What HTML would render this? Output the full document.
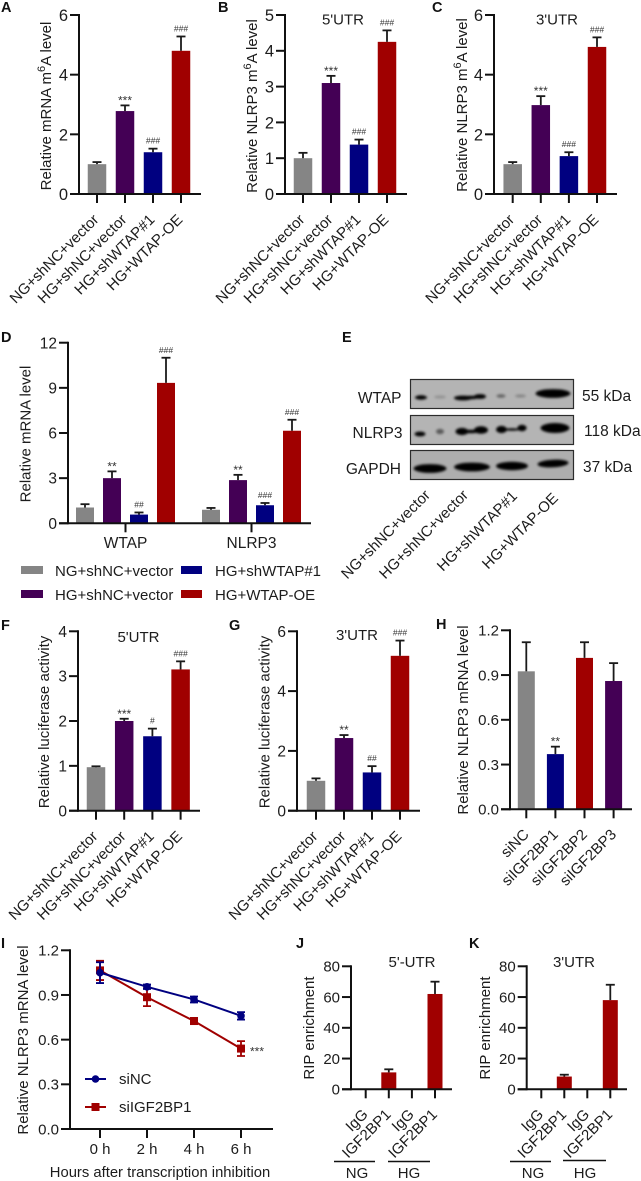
<!DOCTYPE html>
<html lang="en">
<head>
<meta charset="utf-8">
<title>WTAP and NLRP3 figure</title>
<style>
html,body{margin:0;padding:0;background:#fff;}
svg{display:block;}
text{font-family:"Liberation Sans",sans-serif;fill:#1c1c1c;font-size:15px;}
.pl{font-weight:bold;font-size:14.5px;fill:#111;}
.legend-text{font-size:15px;}
.blot-text{font-size:15.5px;}
</style>
</head>
<body>
<svg id="fig" xmlns="http://www.w3.org/2000/svg" width="641" height="1181" viewBox="0 0 641 1181">
  <defs>
    <filter id="soft" x="-30%" y="-60%" width="160%" height="220%"><feGaussianBlur stdDeviation="1.3"/></filter>
  </defs>
  <rect width="641" height="1181" fill="#fff"/>

  <text class="pl" x="1" y="12">A</text>
  <text class="pl" x="218" y="12">B</text>
  <text class="pl" x="432" y="12">C</text>
  <text class="pl" x="1" y="342">D</text>
  <text class="pl" x="342" y="342">E</text>
  <text class="pl" x="1" y="630">F</text>
  <text class="pl" x="229" y="630">G</text>
  <text class="pl" x="436" y="629">H</text>
  <text class="pl" x="1" y="948">I</text>
  <text class="pl" x="296" y="948">J</text>
  <text class="pl" x="469" y="948">K</text>

  <text x="51" y="0" transform="translate(0,106) rotate(-90 51 0)" text-anchor="middle">Relative mRNA m<tspan dy="-6" font-size="11" style="font-size:11px">6</tspan><tspan dy="6">A level</tspan></text>
  <text x="257" y="0" transform="translate(0,106) rotate(-90 257 0)" text-anchor="middle">Relative NLRP3 m<tspan dy="-6" font-size="11" style="font-size:11px">6</tspan><tspan dy="6">A level</tspan></text>
  <text x="467" y="0" transform="translate(0,105) rotate(-90 467 0)" text-anchor="middle">Relative NLRP3 m<tspan dy="-6" font-size="11" style="font-size:11px">6</tspan><tspan dy="6">A level</tspan></text>
  <text x="30.5" y="0" transform="translate(0,434) rotate(-90 30.5 0)" text-anchor="middle">Relative mRNA level</text>
  <text x="49" y="0" transform="translate(0,722) rotate(-90 49 0)" text-anchor="middle">Relative luciferase activity</text>
  <text x="269.5" y="0" transform="translate(0,722) rotate(-90 269.5 0)" text-anchor="middle">Relative luciferase activity</text>
  <text x="468" y="0" transform="translate(0,720) rotate(-90 468 0)" text-anchor="middle">Relative NLRP3 mRNA level</text>
  <text x="28" y="0" transform="translate(0,1040) rotate(-90 28 0)" text-anchor="middle">Relative NLRP3 mRNA level</text>
  <text x="314" y="0" transform="translate(0,1028) rotate(-90 314 0)" text-anchor="middle">RIP enrichment</text>
  <text x="490" y="0" transform="translate(0,1028) rotate(-90 490 0)" text-anchor="middle">RIP enrichment</text>

  <text x="343" y="24.5" text-anchor="middle">5'UTR</text>
  <text x="557" y="24.5" text-anchor="middle">3'UTR</text>
  <text x="138.5" y="642" text-anchor="middle">5'UTR</text>
  <text x="357" y="640" text-anchor="middle">3'UTR</text>
  <text x="412" y="967" text-anchor="middle">5'-UTR</text>
  <text x="574" y="967" text-anchor="middle">3'UTR</text>

  <g>
    <rect x="21" y="566" width="22" height="8" fill="#858585"/>
    <text x="55" y="576">NG+shNC+vector</text>
    <rect x="21" y="590" width="22" height="8" fill="#440055"/>
    <text x="55" y="600">HG+shNC+vector</text>
    <rect x="181" y="566" width="21" height="8" fill="#000080"/>
    <text x="215" y="576">HG+shWTAP#1</text>
    <rect x="181" y="590" width="21" height="8" fill="#a00000"/>
    <text x="215" y="600">HG+WTAP-OE</text>
  </g>

  <g>
    <g>
      <rect x="410.5" y="379.5" width="163" height="29" fill="#b4b4b4" stroke="#2c2c2c" stroke-width="1.2"/>
      <g filter="url(#soft)" fill="#050505">
        <ellipse cx="421" cy="397.5" rx="6" ry="2.2"/>
        <ellipse cx="440" cy="397" rx="6" ry="1.6" opacity=".18"/>
        <ellipse cx="463" cy="398" rx="9" ry="2.4"/>
        <ellipse cx="471" cy="397.5" rx="8" ry="1.8"/>
        <ellipse cx="480" cy="396.5" rx="6" ry="2.4"/>
        <ellipse cx="501" cy="396" rx="4.5" ry="1.8" opacity=".45"/>
        <ellipse cx="520.5" cy="396" rx="5.5" ry="1.6" opacity=".25"/>
        <ellipse cx="553" cy="393.5" rx="17.5" ry="4.4"/>
      </g>
    </g>
    <g>
      <rect x="410.5" y="415.5" width="163" height="29" fill="#b4b4b4" stroke="#2c2c2c" stroke-width="1.2"/>
      <g filter="url(#soft)" fill="#050505">
        <ellipse cx="420" cy="434" rx="5.5" ry="2.4"/>
        <ellipse cx="440" cy="431.5" rx="4" ry="2.6" opacity=".5"/>
        <ellipse cx="462" cy="431.5" rx="6.5" ry="3.6"/>
        <ellipse cx="471" cy="431.5" rx="8" ry="1.8"/>
        <ellipse cx="481" cy="430" rx="7" ry="3.8"/>
        <ellipse cx="501.5" cy="429.5" rx="5.5" ry="3.6"/>
        <ellipse cx="512" cy="429.5" rx="8" ry="1.2"/>
        <ellipse cx="522" cy="428" rx="4.6" ry="3.2"/>
        <ellipse cx="555" cy="428" rx="14.5" ry="5"/>
      </g>
    </g>
    <g>
      <rect x="410.5" y="450.5" width="163" height="29" fill="#aeaeae" stroke="#2c2c2c" stroke-width="1.2"/>
      <g filter="url(#soft)" fill="#030303">
        <ellipse cx="430" cy="468.5" rx="16.5" ry="4.4"/>
        <ellipse cx="472" cy="467" rx="18" ry="4.4"/>
        <ellipse cx="512" cy="466" rx="16" ry="4.2"/>
        <ellipse cx="553" cy="463.5" rx="15.5" ry="3.8" transform="rotate(-3 553 463.5)"/>
      </g>
    </g>
    <text class="blot-text" x="401.5" y="403" text-anchor="end">WTAP</text>
    <text class="blot-text" x="402.5" y="438" text-anchor="end">NLRP3</text>
    <text class="blot-text" x="401" y="474" text-anchor="end">GAPDH</text>
    <text class="blot-text" x="582" y="401">55 kDa</text>
    <text class="blot-text" x="584" y="436">118 kDa</text>
    <text class="blot-text" x="583" y="472">37 kDa</text>
    <text transform="translate(431 496) rotate(-45)" text-anchor="end">NG+shNC+vector</text>
    <text transform="translate(469 496) rotate(-45)" text-anchor="end">HG+shNC+vector</text>
    <text transform="translate(518 497) rotate(-45)" text-anchor="end">HG+shWTAP#1</text>
    <text transform="translate(559 499) rotate(-45)" text-anchor="end">HG+WTAP-OE</text>
  </g>

  <g>
    <line x1="334" x2="375" y1="1161.5" y2="1161.5" stroke="#111" stroke-width="1.6"/>
    <line x1="388" x2="430" y1="1161.5" y2="1161.5" stroke="#111" stroke-width="1.6"/>
    <line x1="510" x2="551" y1="1161.5" y2="1161.5" stroke="#111" stroke-width="1.6"/>
    <line x1="563" x2="606" y1="1160.5" y2="1160.5" stroke="#111" stroke-width="1.6"/>
    <text x="357" y="1178" text-anchor="middle">NG</text>
    <text x="409" y="1178" text-anchor="middle">HG</text>
    <text x="533" y="1178" text-anchor="middle">NG</text>
    <text x="585" y="1178" text-anchor="middle">HG</text>
  </g>
</svg>

<script>
// ---- Chart data ----
const wtapCategories = ['NG+shNC+vector', 'HG+shNC+vector', 'HG+shWTAP#1', 'HG+WTAP-OE'];

const aValues = [1.0, 2.78, 1.4, 4.8];
const aErrors = [0.07, 0.19, 0.12, 0.48];
const aMarks = ['', '***', '###', '###'];
const aTicks = [0, 2, 4, 6];

const bValues = [1.0, 3.1, 1.38, 4.25];
const bErrors = [0.15, 0.2, 0.14, 0.32];
const bMarks = ['', '***', '###', '###'];
const bTicks = [0, 1, 2, 3, 4, 5];

const cValues = [1.0, 2.98, 1.27, 4.93];
const cErrors = [0.07, 0.3, 0.13, 0.32];
const cMarks = ['', '***', '###', '###'];
const cTicks = [0, 2, 4, 6];

const dGroups = ['WTAP', 'NLRP3'];
const dWtapValues = [1.05, 3.0, 0.58, 9.33];
const dWtapErrors = [0.22, 0.45, 0.14, 1.67];
const dWtapMarks = ['', '**', '##', '###'];
const dNlrp3Values = [0.9, 2.87, 1.2, 6.15];
const dNlrp3Errors = [0.12, 0.35, 0.15, 0.73];
const dNlrp3Marks = ['', '**', '###', '###'];
const dTicks = [0, 3, 6, 9, 12];

const fValues = [0.97, 2.0, 1.66, 3.15];
const fErrors = [0.02, 0.05, 0.17, 0.18];
const fMarks = ['', '***', '#', '###'];
const fTicks = [0, 1, 2, 3, 4];

const gValues = [1.0, 2.43, 1.28, 5.18];
const gErrors = [0.08, 0.1, 0.21, 0.51];
const gMarks = ['', '**', '##', '###'];
const gTicks = [0, 2, 4, 6];

const hCategories = ['siNC', 'siIGF2BP1', 'siIGF2BP2', 'siIGF2BP3'];
const hValues = [0.925, 0.37, 1.015, 0.86];
const hErrors = [0.195, 0.05, 0.105, 0.12];
const hMarks = ['', '**', '', ''];
const hTicks = ['0.0', '0.3', '0.6', '0.9', '1.2'];

const iHours = ['0 h', '2 h', '4 h', '6 h'];
const iSiNcValues = [1.05, 0.955, 0.87, 0.76];
const iSiNcErrors = [0.07, 0.015, 0.02, 0.025];
const iSiIgfValues = [1.065, 0.885, 0.725, 0.54];
const iSiIgfErrors = [0.065, 0.06, 0.02, 0.05];
const iTicks = ['0.0', '0.3', '0.6', '0.9', '1.2'];

const ripCategories = ['IgG', 'IGF2BP1', 'IgG', 'IGF2BP1'];
const jValues = [0.2, 11, 0.5, 62];
const jErrors = [0, 2, 0, 8];
const kValues = [0.2, 8.3, 0.5, 58];
const kErrors = [0, 1.2, 0, 10];
const ripMarks = ['', '', '', ''];
const ripTicks = [0, 20, 40, 60, 80];

// ---- Drawing helpers ----
const SVG_NS = 'http://www.w3.org/2000/svg';
const svg = document.getElementById('fig');
const GRAY = '#858585', PURPLE = '#440055', BLUE = '#000080', RED = '#a00000', INK = '#111';
const wtapColors = [GRAY, PURPLE, BLUE, RED];

function make(tag, attrs, parent) {
  const node = document.createElementNS(SVG_NS, tag);
  for (const key in attrs) node.setAttribute(key, attrs[key]);
  (parent || svg).appendChild(node);
  return node;
}

function linearY(layout, ticks) {
  const max = Number(ticks[ticks.length - 1]);
  return function (v) { return layout.y0 - (v / max) * (layout.y0 - layout.yTop); };
}

function drawAxes(name, layout, ticks, yScale, parent) {
  const yAxis = make('line', { x1: layout.axisX, x2: layout.axisX, y1: layout.yTop - 1, y2: layout.y0 + 1, stroke: INK, 'stroke-width': 2 }, parent);
  
  
  const xAxis = make('line', { x1: layout.axisX - 9, x2: layout.axisEnd, y1: layout.y0, y2: layout.y0, stroke: INK, 'stroke-width': 2 }, parent);
  
  
  ticks.forEach(function (t) {
    const y = yScale(Number(t));
    const mark = make('line', { x1: layout.axisX - 9, x2: layout.axisX, y1: y, y2: y, stroke: INK, 'stroke-width': 2 }, parent);
    
    
    const label = make('text', { x: layout.axisX - 11, y: y + layout.tickFont * 0.36, 'text-anchor': 'end', 'font-size': layout.tickFont, style: 'font-size:' + layout.tickFont + 'px' }, parent);
    label.textContent = String(t);
    
    
  });
}

function drawBar(name, cx, width, value, error, sig, color, yScale, layout, parent) {
  const top = yScale(value);
  const bar = make('rect', { x: cx - width / 2, y: top, width: width, height: layout.y0 - top, fill: color }, parent);
  
  
  const errTop = yScale(value + error);
  if (error > 0) {
    const stem = make('line', { x1: cx, x2: cx, y1: top, y2: errTop, stroke: '#1a1a1a', 'stroke-width': 1.8 }, parent);
    
    
    const cap = make('line', { x1: cx - 4.5, x2: cx + 4.5, y1: errTop, y2: errTop, stroke: '#1a1a1a', 'stroke-width': 1.8 }, parent);
    
    
  }
  if (sig) {
    const isStar = sig.charAt(0) === '*';
    const size = isStar ? 12 : 8.5;
    const text = make('text', { x: cx, y: errTop - (isStar ? 1 : 5), 'text-anchor': 'middle', style: 'font-size:' + size + 'px;fill:#333' }, parent);
    text.textContent = sig;
    
    
  }
}

function drawXTick(x, layout, parent) {
  const tick = make('line', { x1: x, x2: x, y1: layout.y0, y2: layout.y0 + 9, stroke: INK, 'stroke-width': 2 }, parent);
  
  
}

function drawBarPanel(name, layout, categories, values, errors, marks, ticks, colors) {
  const group = make('g', {});
  
  
  const yScale = linearY(layout, ticks);
  const xScale = function (i) { return layout.first + i * layout.step; };
  categories.forEach(function (cat, i) {
    const cx = xScale(i);
    drawBar(name + '-' + i, cx, layout.barW, values[i], errors[i], marks[i], colors[i], yScale, layout, group);
    drawXTick(cx, layout, group);
    const label = make('text', { transform: 'translate(' + (cx + layout.labelDx) + ' ' + (layout.y0 + layout.labelDy) + ') rotate(-45)', 'text-anchor': 'end' }, group);
    label.textContent = cat;
    
    
  });
  drawAxes(name, layout, ticks, yScale, group);
}

function drawGroupedPanel() {
  const layout = { axisX: 68, axisEnd: 311, y0: 523.3, yTop: 342.7, tickFont: 15.5 };
  const group = make('g', {});
  
  
  const yScale = linearY(layout, dTicks);
  const groupX = function (g) { return 85 + g * 126; };
  const seriesStep = 27;
  const sets = [[dWtapValues, dWtapErrors, dWtapMarks], [dNlrp3Values, dNlrp3Errors, dNlrp3Marks]];
  dGroups.forEach(function (name, g) {
    const set = sets[g];
    set[0].forEach(function (v, s) {
      drawBar('d-' + name + '-' + s, groupX(g) + s * seriesStep, 18, v, set[1][s], set[2][s], wtapColors[s], yScale, layout, group);
    });
    const center = groupX(g) + 1.5 * seriesStep;
    drawXTick(center, layout, group);
    const label = make('text', { x: center, y: 548, 'text-anchor': 'middle', style: 'font-size:15.5px' }, group);
    label.textContent = name;
    
    
  });
  drawAxes('d', layout, dTicks, yScale, group);
}

function drawLinePanel() {
  const layout = { axisX: 70, axisEnd: 273, y0: 1129, yTop: 950.3, tickFont: 15 };
  const group = make('g', {});
  
  
  const yScale = linearY(layout, iTicks);
  const xScale = function (i) { return 100 + i * 47; };
  function series(name, values, errors, color, square) {
    const pts = values.map(function (v, i) { return xScale(i) + ',' + yScale(v); }).join(' ');
    const line = make('polyline', { points: pts, fill: 'none', stroke: color, 'stroke-width': 2 }, group);
    
    
    values.forEach(function (v, i) {
      const x = xScale(i), yHi = yScale(v + errors[i]), yLo = yScale(v - errors[i]);
      const bar = make('path', { d: 'M' + (x - 4) + ' ' + yHi + 'H' + (x + 4) + 'M' + x + ' ' + yHi + 'V' + yLo + 'M' + (x - 4) + ' ' + yLo + 'H' + (x + 4), fill: 'none', stroke: color, 'stroke-width': 1.8 }, group);
      
      
      let point;
      if (square) {
        point = make('rect', { x: x - 4, y: yScale(v) - 4, width: 8, height: 8, fill: color }, group);
      } else {
        point = make('circle', { cx: x, cy: yScale(v), r: 3.8, fill: color }, group);
      }
      
      
    });
  }
  series('siigf2bp1', iSiIgfValues, iSiIgfErrors, RED, true);
  series('sinc', iSiNcValues, iSiNcErrors, BLUE, false);
  iHours.forEach(function (h, i) {
    drawXTick(xScale(i), layout, group);
    const label = make('text', { x: xScale(i), y: 1154, 'text-anchor': 'middle' }, group);
    label.textContent = h;
    
    
  });
  drawAxes('i', layout, iTicks, yScale, group);
  const star = make('text', { x: 257, y: yScale(iSiIgfValues[3]) + 7, 'text-anchor': 'middle', style: 'font-size:12px;fill:#333' }, group);
  star.textContent = '***';
  
  
  const title = make('text', { x: 160, y: 1177, 'text-anchor': 'middle', style: 'font-size:14.8px' }, group);
  title.textContent = 'Hours after transcription inhibition';
  
  

  const blueLine = make('line', { x1: 85, x2: 106, y1: 1079, y2: 1079, stroke: BLUE, 'stroke-width': 2 }, group);
  
  
  const blueDot = make('circle', { cx: 95.5, cy: 1079, r: 3.8, fill: BLUE }, group);
  
  
  const blueText = make('text', { x: 119, y: 1084 }, group);
  blueText.textContent = 'siNC';
  
  
  const redLine = make('line', { x1: 85, x2: 106, y1: 1107, y2: 1107, stroke: RED, 'stroke-width': 2 }, group);
  
  
  const redSq = make('rect', { x: 91.5, y: 1103, width: 8, height: 8, fill: RED }, group);
  
  
  const redText = make('text', { x: 119, y: 1112 }, group);
  redText.textContent = 'siIGF2BP1';
  
  
}

// ---- Panels ----
drawBarPanel('a', { axisX: 79, axisEnd: 201, y0: 194, yTop: 15, first: 97, step: 28, barW: 18.5, labelDx: 2.5, labelDy: 26.5, tickFont: 16.5 }, wtapCategories, aValues, aErrors, aMarks, aTicks, wtapColors);
drawBarPanel('b', { axisX: 285, axisEnd: 407, y0: 194, yTop: 15, first: 303, step: 28, barW: 18.5, labelDx: 2.5, labelDy: 26.5, tickFont: 16.5 }, wtapCategories, bValues, bErrors, bMarks, bTicks, wtapColors);
drawBarPanel('c', { axisX: 494, axisEnd: 617, y0: 194, yTop: 15, first: 512.7, step: 28.1, barW: 18.5, labelDx: 2.5, labelDy: 26.5, tickFont: 16.5 }, wtapCategories, cValues, cErrors, cMarks, cTicks, wtapColors);
drawGroupedPanel();
drawBarPanel('f', { axisX: 78, axisEnd: 200, y0: 810.7, yTop: 631.3, first: 96, step: 28.2, barW: 18.5, labelDx: 2.5, labelDy: 26.5, tickFont: 15.5 }, wtapCategories, fValues, fErrors, fMarks, fTicks, wtapColors);
drawBarPanel('g', { axisX: 297, axisEnd: 420, y0: 810.7, yTop: 631.3, first: 316, step: 28, barW: 18.5, labelDx: 2.5, labelDy: 26.5, tickFont: 15.5 }, wtapCategories, gValues, gErrors, gMarks, gTicks, wtapColors);
drawBarPanel('h', { axisX: 510, axisEnd: 632, y0: 809.3, yTop: 630.3, first: 526.3, step: 29.1, barW: 17, labelDx: 3.5, labelDy: 26, tickFont: 15 }, hCategories, hValues, hErrors, hMarks, hTicks, [GRAY, BLUE, RED, PURPLE]);
drawLinePanel();
drawBarPanel('j', { axisX: 351, axisEnd: 452, y0: 1089.3, yTop: 966.3, first: 365.7, step: 23.1, barW: 15, labelDx: 3, labelDy: 26, tickFont: 15 }, ripCategories, jValues, jErrors, ripMarks, ripTicks, [RED, RED, RED, RED]);
drawBarPanel('k', { axisX: 526.7, axisEnd: 627, y0: 1089.3, yTop: 966.3, first: 541.3, step: 23, barW: 15, labelDx: 3, labelDy: 26, tickFont: 15 }, ripCategories, kValues, kErrors, ripMarks, ripTicks, [RED, RED, RED, RED]);
</script>
</body>
</html>
